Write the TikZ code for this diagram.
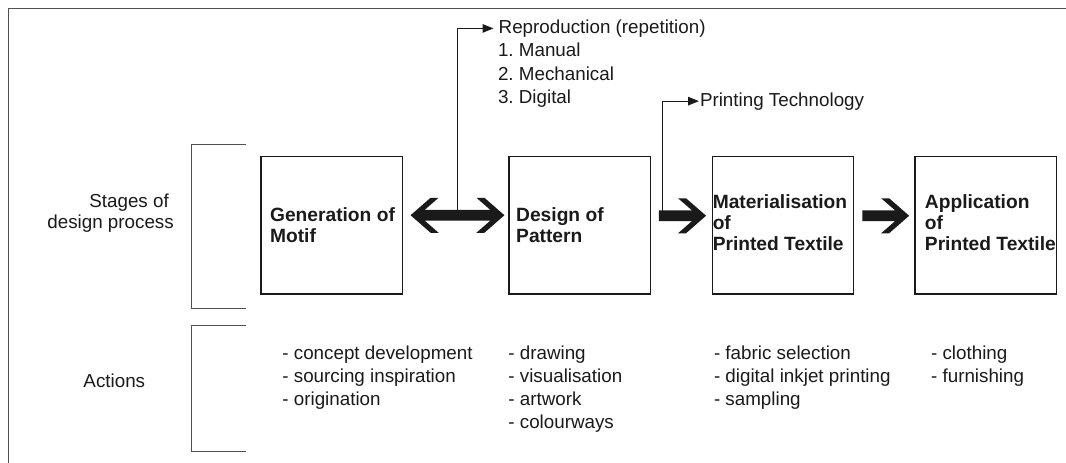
\documentclass[tikz,border=0pt]{standalone}
\usepackage{fontspec}
\setmainfont{Liberation Sans}
\usetikzlibrary{calc,arrows.meta}
\frenchspacing

\definecolor{ink}{HTML}{1A1A1A}
\definecolor{rule}{HTML}{505050}

\tikzset{
  stagebox/.style={draw=ink, line width=1.3pt, minimum width=141.6pt,
    minimum height=137.5pt, inner sep=0pt},
  boxlabel/.style={anchor=west, inner sep=0pt, align=left, text=ink,
    font=\fontsize{19.2}{21}\selectfont\bfseries},
  plain/.style={inner sep=0pt, align=left, text=ink,
    font=\fontsize{18.8}{23.2}\selectfont},
  bracket/.style={draw=rule, line width=1.1pt},
  leader/.style={draw=ink, line width=1.2pt,
    -{Triangle[length=11pt,width=8.5pt]}},
}

% heavy block arrow from shaft start #1 to tip #2
\newcommand\blockarrow[2]{%
  \fill[ink] ($(#1)+(0,-5.3)$) -- ($(#2)+(-14,-5.3)$) -- ($(#2)+(-28,-17.5)$)
    -- ($(#2)+(-20,-17.5)$) -- (#2) -- ($(#2)+(-20,17.5)$)
    -- ($(#2)+(-28,17.5)$) -- ($(#2)+(-14,5.3)$) -- ($(#1)+(0,5.3)$) -- cycle;}

\begin{document}
\begin{tikzpicture}[x=1pt, y=-1pt]
\useasboundingbox (0,0) rectangle (1066,463);

% outer frame (open to the right and bottom)
\draw[draw=rule, line width=1.7pt] (8.5,463) -- (8.5,8.5) -- (1066,8.5);

% row brackets
\draw[bracket] (246,144.6) -| (191.8,308.5) -- (246,308.5);
\draw[bracket] (246,325.4) -| (191.8,451.3) -- (246,451.3);

% row titles
\node[plain, align=right, anchor=north east,
      font=\fontsize{18.8}{20.5}\selectfont] (stages) at (174,193.8)
  {Stages of\hspace*{5pt}\\design process};
\node[plain, anchor=base] (actions) at (114.3,387.5) {Actions};

% stage boxes
\node[stagebox] (b1) at (331.85,225.25) {};
\node[stagebox] (b2) at (579.85,225.25) {};
\node[stagebox] (b3) at (783,225.25) {};
\node[stagebox] (b4) at (985.9,225.25) {};

\node[boxlabel] (l1) at ($(b1.west)+(9.5,0)$) {Generation of\\Motif};
\node[boxlabel] (l2) at ($(b2.west)+(7.6,0)$) {Design of\\Pattern};
\node[boxlabel] (l3) at ($(b3.west)+(1,-2.7)$) {Materialisation\\of\\Printed Textile};
\node[boxlabel] (l4) at ($(b4.west)+(10.3,-2.7)$) {Application\\of\\Printed Textile};

% heavy connectors
\coordinate (d1) at ($(b1.east)+(7.3,-10)$);
\coordinate (d2) at ($(b2.west)+(-4,-10)$);
\fill[ink] (d1) -- ($(d1)+(20,-17.5)$) -- ($(d1)+(28,-17.5)$) -- ($(d1)+(14,-5.3)$)
  -- ($(d2)+(-14,-5.3)$) -- ($(d2)+(-28,-17.5)$) -- ($(d2)+(-20,-17.5)$) -- (d2)
  -- ($(d2)+(-20,17.5)$) -- ($(d2)+(-28,17.5)$) -- ($(d2)+(-14,5.3)$)
  -- ($(d1)+(14,5.3)$) -- ($(d1)+(28,17.5)$) -- ($(d1)+(20,17.5)$) -- cycle;

\coordinate (s2) at ($(b2.east)+(7.6,-9.5)$);
\coordinate (t2) at ($(b3.west)+(-5.5,-9.5)$);
\blockarrow{s2}{t2}
\coordinate (s3) at ($(b3.east)+(7.9,-9.5)$);
\coordinate (t3) at ($(b4.west)+(-5.3,-9.5)$);
\blockarrow{s3}{t3}

% side notes and their leaders
\node[plain, anchor=base west, inner xsep=5pt] (repro) at (493.5,33.3)
  {Reproduction (repetition)};
\node[plain, anchor=north west] (methods) at (497.8,43)
  {1. Manual\\2. Mechanical\\3. Digital};
\node[plain, anchor=base west, inner xsep=0.8pt] (print) at (699,106)
  {Printing Technology};

\coordinate (dmid) at ($(d1)!0.5!(d2)$);
\coordinate (pt) at ($(s2)+(3.4,0)$);
\draw[leader] (dmid) |- (repro.west);
\draw[leader] (pt) |- (print.west);

% actions per stage
\node[plain, anchor=north west] (a1) at (282.2,345.3)
  {- concept development\\- sourcing inspiration\\- origination};
\node[plain, anchor=north west] (a2) at (508.2,345.3)
  {- drawing\\- visualisation\\- artwork\\- colourways};
\node[plain, anchor=north west] (a3) at (713.8,345.3)
  {- fabric selection\\- digital inkjet printing\\- sampling};
\node[plain, anchor=north west] (a4) at (930.9,345.3)
  {- clothing\\- furnishing};
\end{tikzpicture}
\end{document}
